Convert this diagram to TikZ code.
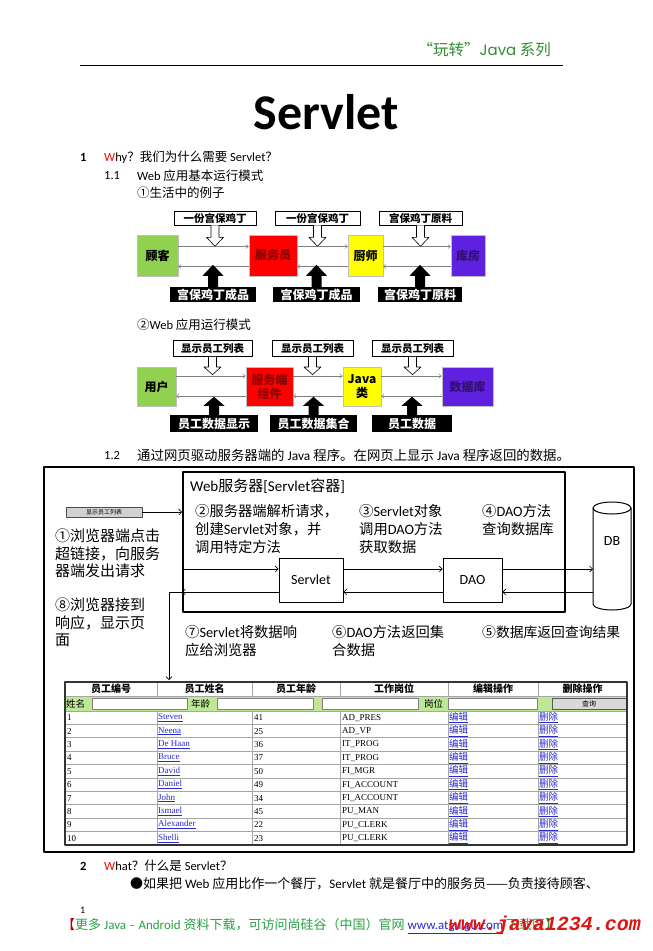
\documentclass[tikz,border=0pt]{standalone}
\usepackage{fontspec}
\setmainfont{Carlito}
\newfontfamily\cjk{Noto Sans CJK SC}
\newfontfamily\enfont{Carlito}
\newfontfamily\geofont{Poppins}
\newfontfamily\tabfont{Liberation Serif}
\newfontfamily\wmfont{Liberation Mono}
\usetikzlibrary{arrows.meta,positioning}
\newcommand\en[1]{{\enfont #1}}

\definecolor{hdgreen}{RGB}{50,140,50}
\definecolor{ftgreen}{RGB}{40,160,70}
\definecolor{bxgreen}{RGB}{146,208,80}
\definecolor{bxred}{RGB}{255,0,0}
\definecolor{bxyellow}{RGB}{255,255,0}
\definecolor{bxpurple}{RGB}{96,32,224}
\definecolor{lnkblue}{RGB}{40,40,210}
\definecolor{srchgreen}{RGB}{190,232,150}
\definecolor{wmred}{RGB}{225,20,20}

\tikzset{
  sbox/.style={draw=gray!50, inner sep=0pt, align=center, font=\cjk\bfseries\fontsize{12}{14}\selectfont},
  toplab/.style={draw, line width=0.6pt, fill=white, inner sep=0pt, font=\cjk\bfseries\fontsize{10.5}{10.5}\selectfont},
  botlab/.style={fill=black, text=white, inner sep=0pt, font=\cjk\bfseries\fontsize{12}{12}\selectfont},
  thinarr/.style={draw=gray, line width=0.5pt, -{Straight Barb[length=2.5pt,width=4pt]}},
  bigarr/.style={line width=0.6pt, -{Straight Barb[length=3pt,width=6pt]}},
  hollow/.pic={\draw[fill=white, line width=0.6pt] (-4,0) -- (-4,12) -- (-8.5,12) -- (0,21) -- (8.5,12) -- (4,12) -- (4,0);},
  solidup/.pic={\fill (-5,0) -- (-5,-11) -- (-10.5,-11) -- (0,-22) -- (10.5,-11) -- (5,-11) -- (5,0) -- cycle;},
  body/.style={anchor=west, inner sep=0pt, font=\fontsize{12.5}{12.5}\selectfont},
  steptext/.style={anchor=north west, inner sep=0pt, align=left, font=\cjk\fontsize{14.3}{18}\selectfont},
  cell/.style={anchor=west, inner sep=0pt, font=\tabfont\fontsize{9}{9}\selectfont},
  link/.style={cell, text=lnkblue},
  rowline/.style={gray!70, line width=0.9pt},
}

\begin{document}
\begin{tikzpicture}[x=1pt, y=-1pt, line join=round]
\useasboundingbox (0,0) rectangle (653,951);

% page head
\node[body, anchor=east, text=hdgreen, font=\cjk\fontsize{15.5}{16}\selectfont] (head) at (551,50) {“玩转”{\geofont\fontsize{15}{16}\selectfont Java} 系列};
\draw[line width=1pt] (80,65) -- (563,65);
\node[inner sep=0pt, font=\bfseries\fontsize{50}{50}\selectfont] (title) at (326,112) {Servlet};

\node[body, font=\bfseries\fontsize{12.5}{12.5}\selectfont] (n1) at (80,157) {1};
\node[body] (why) at (104,157) {{\color{red}W}hy{\cjk ？我们为什么需要} Servlet{\cjk ？}};
\node[body] (n11) at (104,176) {1.1};
\node[body] (t11) at (137,176) {Web {\cjk 应用基本运行模式}};
\node[body, font=\cjk\fontsize{12.5}{12.5}\selectfont] (t11a) at (137,193) {①生活中的例子};

% 1.1 restaurant
\node[sbox, fill=bxgreen, minimum width=41pt, minimum height=41pt] (guke) at (157.5,255.5) {顾客};
\node[sbox, fill=bxred, text=red!55!black, minimum width=48pt, minimum height=41pt] (fuwu) at (273,255.5) {服务员};
\node[sbox, fill=bxyellow, minimum width=35pt, minimum height=41pt] (chushi) at (365.5,255.5) {厨师};
\node[sbox, fill=bxpurple, text=bxpurple!50!black, minimum width=34pt, minimum height=41pt] (kufang) at (468,255.5) {库房};

\foreach \a/\b in {guke/fuwu, fuwu/chushi, chushi/kufang} {
  \draw[thinarr] ([yshift=9pt]\a.east) -- ([yshift=9pt]\b.west);
  \draw[thinarr] ([yshift=-11pt]\b.west) -- ([yshift=-11pt]\a.east);
}

\foreach \x/\w/\t [count=\i] in {215/82/一份宫保鸡丁, 317.5/85/一份宫保鸡丁, 420.5/83/宫保鸡丁原料} {
  \node[toplab, minimum width=\w pt, minimum height=14pt] (ta\i) at (\x,218) {\t};
  \pic at (ta\i.south) {hollow};
}
\foreach \x/\w/\t [count=\i] in {213/86/宫保鸡丁成品, 316.5/87/宫保鸡丁成品, 420/84/宫保鸡丁原料} {
  \node[botlab, minimum width=\w pt, minimum height=15pt] (ba\i) at (\x,294.5) {\t};
  \pic at (ba\i.north) {solidup};
}

% 1.1 web
\node[body] (t11b) at (137,325) {{\cjk ②}Web {\cjk 应用运行模式}};

\node[sbox, fill=bxgreen, minimum width=39pt, minimum height=39pt] (yonghu) at (156.5,386.5) {用户};
\node[sbox, fill=bxred, text=red!55!black, minimum width=47pt, minimum height=39pt] (zujian) at (269.5,386.5) {服务端\\组件};
\node[sbox, fill=bxyellow, minimum width=38pt, minimum height=39pt] (javalei) at (362,386.5) {Java\\类};
\node[sbox, fill=bxpurple, text=bxpurple!50!black, minimum width=51pt, minimum height=39pt] (shujuku) at (467.5,386.5) {数据库};

\foreach \a/\b in {yonghu/zujian, zujian/javalei, javalei/shujuku} {
  \draw[thinarr] ([yshift=10.5pt]\a.east) -- ([yshift=10.5pt]\b.west);
  \draw[thinarr] ([yshift=-9.5pt]\b.west) -- ([yshift=-9.5pt]\a.east);
}

\foreach \x/\w [count=\i] in {212.5/79, 312.5/81, 412.5/81} {
  \node[toplab, minimum width=\w pt, minimum height=16pt] (tb\i) at (\x,348.5) {显示员工列表};
  \pic[yscale=0.85] at (tb\i.south) {hollow};
}
\foreach \x/\w/\t [count=\i] in {214/88/员工数据显示, 313.5/87/员工数据集合, 412/80/员工数据} {
  \node[botlab, minimum width=\w pt, minimum height=17pt] (bb\i) at (\x,423.5) {\t};
  \pic[yscale=0.82] at (bb\i.north) {solidup};
}

% 1.2
\node[body] (n12) at (104,455) {1.2};
\node[body, font=\fontsize{13.4}{13.4}\selectfont] (t12) at (137,455) {{\cjk 通过网页驱动服务器端的} Java {\cjk 程序。在网页上显示} Java {\cjk 程序返回的数据。}};

\draw[line width=1.2pt] (44,467) rectangle (634,852);
\node[draw, line width=1.8pt, minimum width=382pt, minimum height=140pt, inner sep=0pt] (web) at (374,542) {};
\node[body, font=\fontsize{15}{15}\selectfont] (webtitle) at (190,486) {Web{\cjk 服务器}[Servlet{\cjk 容器}]};

\node[draw=gray!60!black, fill=gray!35, minimum width=76pt, minimum height=10pt, inner sep=0pt, font=\cjk\fontsize{6}{6}\selectfont] (btn) at (104,512) {显示员工列表};
\draw[bigarr] (btn.east) -- (btn.east -| web.west);

\node[draw, line width=0.8pt, minimum width=64pt, minimum height=44pt, font=\fontsize{14}{14}\selectfont] (servlet) at (311,580) {Servlet};
\node[draw, line width=0.8pt, minimum width=59pt, minimum height=44pt, font=\fontsize{14}{14}\selectfont] (dao) at (472.5,580) {DAO};

% DB
\draw[line width=1pt, fill=white] (593,508) -- (593,604) arc[start angle=180, end angle=0, x radius=19, y radius=6] -- (631,508) arc[start angle=0, end angle=-180, x radius=19, y radius=6];
\draw[line width=1pt] (593,508) arc[start angle=180, end angle=0, x radius=19, y radius=6];
\node[inner sep=0pt, font=\fontsize{14}{14}\selectfont] (db) at (612,541) {DB};
\coordinate (dbw) at (593,580);

\draw[bigarr] ([yshift=11pt]servlet.west -| web.west) -- ([yshift=11pt]servlet.west);
\draw[bigarr] ([yshift=11pt]servlet.east) -- ([yshift=11pt]dao.west);
\draw[bigarr] ([yshift=11pt]dao.east) -- ([yshift=11pt]dao.east -| dbw);
\draw[bigarr] ([yshift=-12pt]dao.east -| dbw) -- ([yshift=-12pt]dao.east);
\draw[bigarr] ([yshift=-12pt]dao.west) -- ([yshift=-12pt]servlet.east);
\draw[bigarr] ([yshift=-12pt]servlet.west) -- ([yshift=-12pt]servlet.west -| web.west) coordinate (retin);
\coordinate (tabin) at (169,680);
\draw[bigarr] (retin) -| (tabin);

\node[steptext, font=\cjk\fontsize{15}{17.5}\selectfont] (s1) at (55,529) {①浏览器端点击\\超链接，向服务\\器端发出请求};
\node[steptext, font=\cjk\fontsize{15}{17.5}\selectfont] (s8) at (55,598) {⑧浏览器接到\\响应，显示页\\面};
\node[steptext] (s2) at (195,504) {②服务器端解析请求，\\创建\en{Servlet}对象，并\\调用特定方法};
\node[steptext] (s3) at (359,504) {③\en{Servlet}对象\\调用\en{DAO}方法\\获取数据};
\node[steptext] (s4) at (482,504) {④\en{DAO}方法\\查询数据库};
\node[steptext] (s7) at (185,625) {⑦\en{Servlet}将数据响\\应给浏览器};
\node[steptext] (s6) at (332,625) {⑥\en{DAO}方法返回集\\合数据};
\node[steptext, font=\cjk\fontsize{13.8}{18}\selectfont] (s5) at (482,626) {⑤数据库返回查询结果};

% table
\fill[srchgreen] (65,696) rectangle (627,711);
\foreach \xa/\xb in {92/187, 217/313, 322/418, 448/537}
  \draw[gray, fill=white, line width=0.6pt] (\xa,698) rectangle (\xb,709);
\node[draw=gray!70!black, fill=gray!30, minimum width=74pt, minimum height=11pt, inner sep=0pt, font=\cjk\fontsize{7}{7}\selectfont] (query) at (589,703.5) {查询};
\node[cell, font=\cjk\fontsize{9.5}{9.5}\selectfont] (lbname) at (66,703.5) {姓名};
\node[cell, font=\cjk\fontsize{9.5}{9.5}\selectfont] (lbage) at (191,703.5) {年龄};
\node[cell, font=\cjk\fontsize{9.5}{9.5}\selectfont] (lbpos) at (424,703.5) {岗位};

\draw[rowline] (65,696) -- (627,696);
\foreach \i in {0,...,9}
  \draw[rowline] (65,{711+13.4*\i}) -- (627,{711+13.4*\i});
\foreach \x in {157,252,340,448,538} {
  \draw[rowline] (\x,682) -- (\x,696);
  \draw[rowline] (\x,711) -- (\x,845);
}
\draw[line width=1.2pt, gray!40!black] (65,682) rectangle (627,845);

\foreach \x/\t [count=\i] in {111/员工编号, 204.5/员工姓名, 296/员工年龄, 394/工作岗位, 493/编辑操作, 582.5/删除操作}
  \node[inner sep=0pt, font=\cjk\bfseries\fontsize{10}{10}\selectfont] (hd\i) at (\x,689) {\t};

\foreach \n/\nm/\ag/\jb [count=\i] in {1/Steven/41/AD\_PRES, 2/Neena/25/AD\_VP, 3/De Haan/36/IT\_PROG, 4/Bruce/37/IT\_PROG, 5/David/50/FI\_MGR, 6/Daniel/49/FI\_ACCOUNT, 7/John/34/FI\_ACCOUNT, 8/Ismael/45/PU\_MAN, 9/Alexander/22/PU\_CLERK, 10/Shelli/23/PU\_CLERK} {
  \pgfmathsetmacro\yc{711+13.4*(\i-0.5)}
  \node[cell] (id\i) at (67,\yc) {\n};
  \node[link] (nm\i) at (158,\yc) {\underline{\nm}};
  \node[cell] (ag\i) at (254,\yc) {\ag};
  \node[cell] (jb\i) at (342,\yc) {\jb};
  \node[link, font=\cjk\fontsize{9.5}{9.5}\selectfont] (ed\i) at (449,\yc) {\underline{编辑}};
  \node[link, font=\cjk\fontsize{9.5}{9.5}\selectfont] (dl\i) at (539,\yc) {\underline{删除}};
}

% part 2
\node[body, font=\bfseries\fontsize{12.5}{12.5}\selectfont] (n2) at (80,866) {2};
\node[body] (what) at (104,866) {{\color{red}W}hat{\cjk ？什么是} Servlet{\cjk ？}};
\node[body, font=\fontsize{13}{13}\selectfont] (bul) at (130,884) {{\cjk ●如果把} Web {\cjk 应用比作一个餐厅，}Servlet {\cjk 就是餐厅中的服务员——负责接待顾客、}};

% foot
\node[body, font=\fontsize{10}{10}\selectfont] (pg) at (80,910) {1};
\node[body, text=ftgreen, font=\fontsize{13}{13}\selectfont] (foot) at (62,926) {{\cjk\color{red!70!black}【}{\cjk 更多} Java – Android {\cjk 资料下载，可访问尚硅谷（中国）官网} {\color{lnkblue}\underline{www.atguigu.com}} {\cjk 下载区】}};
\node[anchor=east, inner sep=0pt, text=wmred, font=\wmfont\bfseries\itshape\fontsize{20}{20}\selectfont] (wm) at (641,925) {www.java1234.com};
\end{tikzpicture}
\end{document}
